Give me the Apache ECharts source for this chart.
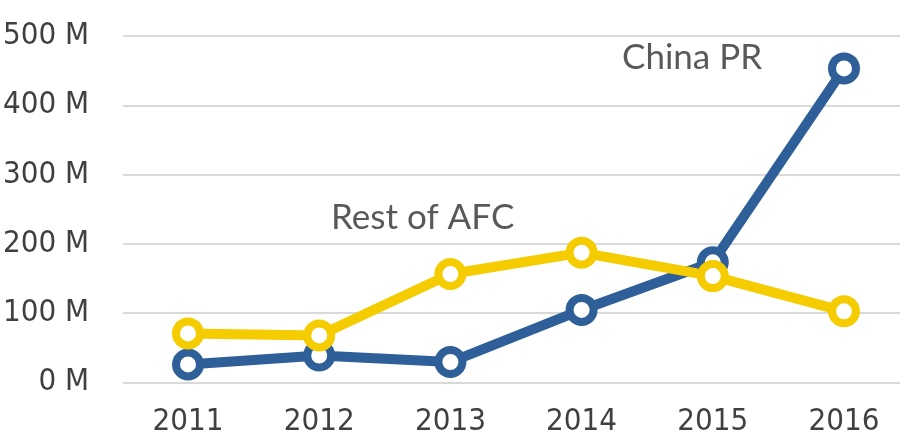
<!DOCTYPE html>
<html><head><meta charset="utf-8">
<script src="https://cdn.jsdelivr.net/npm/echarts@6/dist/echarts.min.js"></script>
<style>html,body{margin:0;padding:0;background:#fff}#c{width:900px;height:437px}</style>
</head><body><div id="c"></div>
<script>
var years = ['2011','2012','2013','2014','2015','2016'];
var chinaPR = [24, 37, 27.5, 103, 172, 453];
var restOfAFC = [69, 66, 155, 186, 152, 101];
var yTicks = [0, 100, 200, 300, 400, 500];

var chart = echarts.init(document.getElementById('c'));
var axisFont = {fontFamily: "'DejaVu Sans Condensed', 'Liberation Sans Narrow', sans-serif", fontSize: 31, color: '#404040'};
function mk(name, data, color) {
  return {
    name: name, type: 'line', data: data, xAxisIndex: 1, yAxisIndex: 1,
    symbol: 'circle', symbolSize: 24,
    lineStyle: {color: color, width: 10},
    itemStyle: {color: '#ffffff', borderColor: color, borderWidth: 8},
    animation: false
  };
}
var yMin = yTicks[0], yMax = yTicks[yTicks.length-1];
chart.setOption({
  animation: false,
  grid: [
    {left: 123, right: 0, top: 36, bottom: 54.7},
    {left: 188, right: 56, top: 36, bottom: 54.7}
  ],
  xAxis: [
    {gridIndex: 0, type: 'category', data: years, show: false},
    {gridIndex: 1, type: 'category', data: years, boundaryGap: false,
     axisLine: {show: false}, axisTick: {show: false},
     axisLabel: Object.assign({margin: 25}, axisFont)}
  ],
  yAxis: [
    {gridIndex: 0, type: 'value', min: yMin, max: yMax, interval: 100,
     axisLine: {show: false}, axisTick: {show: false},
     splitLine: {lineStyle: {color: '#d9d9d9', width: 2}},
     axisLabel: Object.assign({margin: 34, formatter: function(v){return v + ' M';}}, axisFont)},
    {gridIndex: 1, type: 'value', min: yMin, max: yMax, interval: 100, show: false,
     splitLine: {show: false}}
  ],
  series: [mk('China PR', chinaPR, '#2e5f98'), mk('Rest of AFC', restOfAFC, '#f5cc00')],
  graphic: [
    {type: 'text', left: 622, top: 40, style: {text: 'China PR', fontFamily: 'Lato', fontSize: 35, fill: '#595959'}},
    {type: 'text', left: 331, top: 200, style: {text: 'Rest of AFC', fontFamily: 'Lato', fontSize: 35, fill: '#595959'}}
  ]
});
</script></body></html>
